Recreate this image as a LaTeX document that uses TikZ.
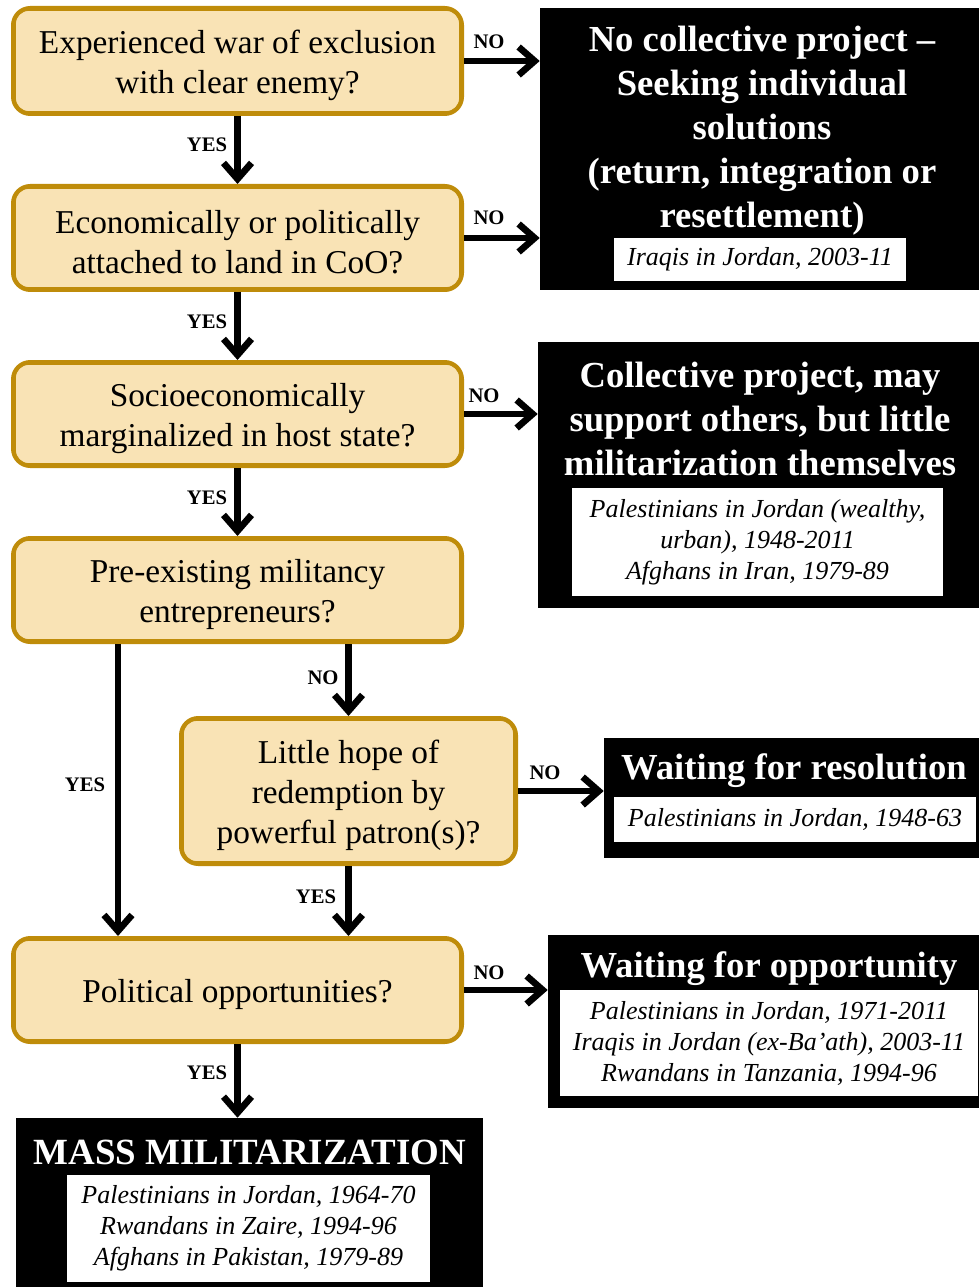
\documentclass[tikz,border=0pt]{standalone}
\usepackage{fontspec}
\setmainfont{Liberation Serif}
\usetikzlibrary{arrows.meta}
\definecolor{qfill}{RGB}{249,227,181}
\definecolor{qedge}{RGB}{191,140,10}
\tikzset{
  qbox/.style={draw=qedge, fill=qfill, line width=3pt, rounded corners=13pt, inner sep=0pt},
  qtext/.style={align=center, inner sep=0pt, yshift=-3.5pt, font=\fontsize{25}{30}\selectfont},
  qinner/.style={draw=qedge, line width=0.7pt, rounded corners=10pt},
  outbox/.style={fill=black, inner sep=0pt},
  headtext/.style={text=white, align=center, inner sep=0pt,
    font=\bfseries\fontsize{27.5}{33}\selectfont},
  casebox/.style={fill=white, align=center, inner sep=0pt,
    font=\itshape\fontsize{19.5}{23.25}\selectfont},
  flow/.style={line width=5pt, -{Straight Barb[length=12pt,width=21pt]}},
  ans/.style={inner sep=0pt, font=\bfseries\fontsize{15.5}{18}\selectfont},
}
\begin{document}
\begin{tikzpicture}[x=0.75pt, y=-0.75pt]
\useasboundingbox (0,0) rectangle (979,1287);

% question boxes
\node[qbox, minimum width={449*0.75pt}, minimum height={106*0.75pt},
  label={[qtext]center:Experienced war of exclusion\\with clear enemy?}] (q1) at (237.5,61) {};
\node[qbox, minimum width={449*0.75pt}, minimum height={104*0.75pt},
  label={[qtext]center:Economically or politically\\attached to land in CoO?}] (q2) at (237.5,238) {};
\node[qbox, minimum width={449*0.75pt}, minimum height={104*0.75pt},
  label={[qtext]center:Socioeconomically\\marginalized in host state?}] (q3) at (237.5,414) {};
\node[qbox, minimum width={449*0.75pt}, minimum height={104*0.75pt},
  label={[qtext]center:Pre-existing militancy\\entrepreneurs?}] (q4) at (237.5,590) {};
\node[qbox, minimum width={335*0.75pt}, minimum height={146*0.75pt},
  label={[qtext]center:Little hope of\\redemption by\\powerful patron(s)?}] (q5) at (348.5,791) {};
\node[qbox, minimum width={449*0.75pt}, minimum height={104*0.75pt},
  label={[qtext]center:Political opportunities?}] (q6) at (237.5,990) {};
\foreach \n in {q1,q2,q3,q4,q5,q6}
  \draw[qinner] ([xshift=3.3pt,yshift=-3.3pt]\n.north west) rectangle ([xshift=-3.3pt,yshift=3.3pt]\n.south east);

% outcome boxes
\node[outbox, minimum width={439*0.75pt}, minimum height={282*0.75pt}] (oa) at (759.5,149) {};
\node[headtext] (ta) at (762,131)
  {No collective project --\\Seeking individual\\solutions\\(return, integration or\\resettlement)};
\node[casebox, minimum width={292*0.75pt}, minimum height={43*0.75pt}] (ca) at (760,259.5)
  {Iraqis in Jordan, 2003-11};

\node[outbox, minimum width={441*0.75pt}, minimum height={266*0.75pt}] (ob) at (758.5,475) {};
\node[headtext] (tb) at (760,419)
  {Collective project, may\\support others, but little\\militarization themselves};
\node[casebox, minimum width={371*0.75pt}, minimum height={108*0.75pt}] (cb) at (757.5,542)
  {Palestinians in Jordan (wealthy,\\urban), 1948-2011\\Afghans in Iran, 1979-89};

\node[outbox, minimum width={375*0.75pt}, minimum height={120*0.75pt}] (oc) at (791.5,798) {};
\node[headtext] (tc) at (794,771) {Waiting for resolution};
\node[casebox, minimum width={362*0.75pt}, minimum height={45*0.75pt}] (cc) at (795,819.5)
  {Palestinians in Jordan, 1948-63};

\node[outbox, minimum width={431*0.75pt}, minimum height={173*0.75pt}] (od) at (763.5,1021.5) {};
\node[headtext] (td) at (769,969) {Waiting for opportunity};
\node[casebox, minimum width={418*0.75pt}, minimum height={106*0.75pt}] (cd) at (769,1043)
  {Palestinians in Jordan, 1971-2011\\Iraqis in Jordan (ex-Ba'ath), 2003-11\\Rwandans in Tanzania, 1994-96};

\node[outbox, minimum width={467*0.75pt}, minimum height={169*0.75pt}] (oe) at (249.5,1202.5) {};
\node[headtext, font=\bfseries\fontsize{27.7}{33}\selectfont] (te) at (250,1152) {MASS MILITARIZATION};
\node[casebox, minimum width={363*0.75pt}, minimum height={107*0.75pt}] (ce) at (248.5,1228.5)
  {Palestinians in Jordan, 1964-70\\Rwandans in Zaire, 1994-96\\Afghans in Pakistan, 1979-89};

% connectors
\coordinate (lx) at (118,0);
\draw[flow] (q1.south) -- (q2.north);
\draw[flow] (q2.south) -- (q3.north);
\draw[flow] (q3.south) -- (q4.north);
\draw[flow] (q1.east) -- (q1.east -| oa.west);
\draw[flow] (q2.east) -- (q2.east -| oa.west);
\draw[flow] (q3.east) -- (q3.east -| ob.west);
\draw[flow] (q4.south -| q5.north) -- (q5.north);
\draw[flow] (q4.south -| lx) -- (q6.north -| lx);
\draw[flow] (q5.south) -- (q5.south |- q6.north);
\draw[flow] (q5.east) -- (q5.east -| oc.west);
\draw[flow] (q6.east) -- (q6.east -| od.west);
\draw[flow] (q6.south) -- (q6.south |- oe.north);

% answer labels
\node[ans] (y1) at (207,145) {YES};
\node[ans] (y2) at (207,322) {YES};
\node[ans] (y3) at (207,498) {YES};
\node[ans] (y4) at (85,785) {YES};
\node[ans] (y5) at (316,897) {YES};
\node[ans] (y6) at (207,1073) {YES};
\node[ans] (n1) at (489,42) {NO};
\node[ans] (n2) at (489,218) {NO};
\node[ans] (n3) at (484,396) {NO};
\node[ans] (n4) at (323,678) {NO};
\node[ans] (n5) at (545,773) {NO};
\node[ans] (n6) at (489,973) {NO};
\end{tikzpicture}
\end{document}
